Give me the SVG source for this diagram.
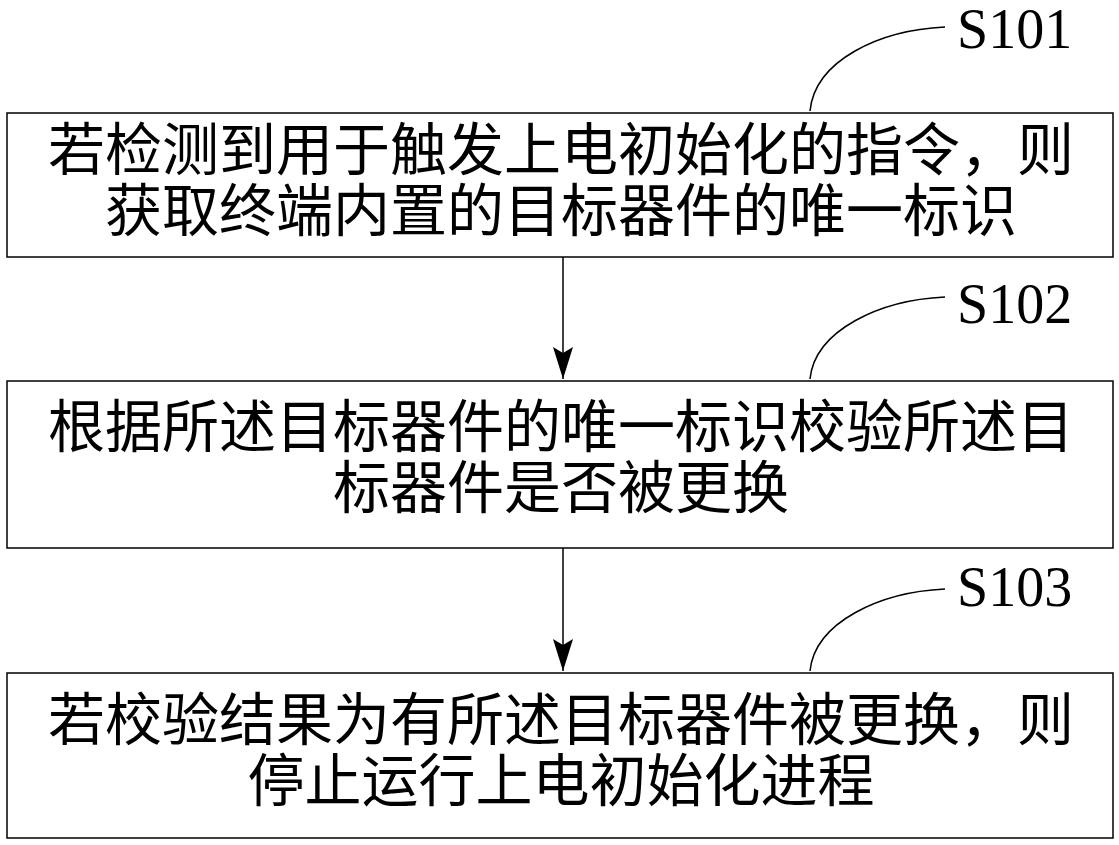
<svg xmlns="http://www.w3.org/2000/svg" width="1119" height="845" viewBox="0 0 1119 845">
<style>
.box{fill:#fff;stroke:#000;stroke-width:1.5}
.t{font-family:"Liberation Serif","Noto Sans CJK SC",serif;font-size:57px;text-anchor:middle}
.lb{font-family:"Liberation Serif",serif;font-size:56px}
.c{fill:none;stroke:#000;stroke-width:1.5}
</style>
<defs>
<marker id="b" markerWidth="20" markerHeight="32" refX="10" refY="32" markerUnits="userSpaceOnUse" orient="0"><path d="M0,0 L10,32 L20,0 L10,6 Z" fill="#000"/></marker></defs>
<rect width="1119" height="845" fill="#fff"/>
<g id="n1"><rect class="box" x="7" y="113" width="1106" height="144"/>
<text class="t" x="561" y="170">若检测到用于触发上电初始化的指令，则</text>
<text class="t" x="561" y="231">获取终端内置的目标器件的唯一标识</text></g>
<g id="n2"><rect class="box" x="7" y="381" width="1106" height="167"/>
<text class="t" x="561" y="447">根据所述目标器件的唯一标识校验所述目</text>
<text class="t" x="561" y="508">标器件是否被更换</text></g>
<g id="n3"><rect class="box" x="7" y="673" width="1106" height="165"/>
<text class="t" x="561" y="740">若校验结果为有所述目标器件被更换，则</text>
<text class="t" x="561" y="801">停止运行上电初始化进程</text></g>
<g id="labels">
<text class="lb" x="957" y="48">S101</text>
<text class="lb" x="957" y="323">S102</text>
<text class="lb" x="957" y="606">S103</text>
<path class="c" d="M810,111 C815,60 880,30 945,27"/>
<path class="c" d="M810,379 C815,330 880,300 945,297"/>
<path class="c" d="M810,671 C815,622 880,592 945,589"/>
</g>
<g id="connectors">
<line class="c" x1="563" y1="257" x2="563" y2="379" marker-end="url(#b)"/>
<line class="c" x1="563" y1="548" x2="563" y2="671" marker-end="url(#b)"/>
</g>
</svg>
